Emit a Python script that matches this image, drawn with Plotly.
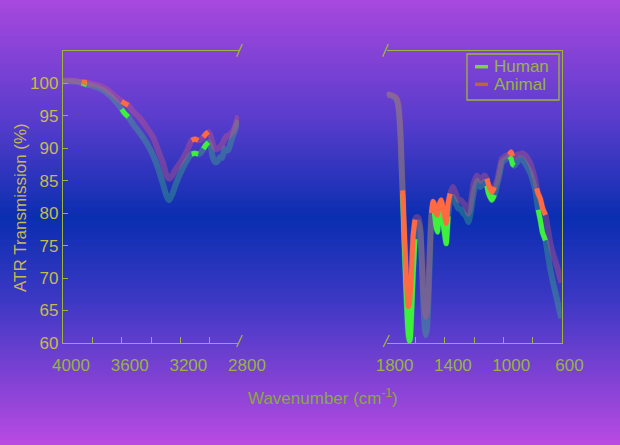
import plotly.graph_objects as go

# ---------------- data ----------------
left_wn = [4000, 3950, 3900, 3873, 3838, 3800, 3750, 3700, 3650, 3600, 3578, 3555, 3520, 3475, 3430,
           3386, 3350, 3320, 3290, 3275, 3255, 3230, 3190, 3150, 3123, 3100, 3078, 3060, 3043, 3025,
           3009, 2995, 2976, 2960, 2945, 2930, 2915, 2898, 2884, 2870, 2855, 2839, 2820, 2805]
left_human = [100.3, 100.3, 100.2, 100.0, 99.8, 99.6, 99.2, 98.5, 97.4, 96.0, 95.3, 94.8, 93.6, 92.3, 90.8,
              88.9, 86.8, 84.6, 82.4, 82.0, 82.9, 84.5, 86.6, 88.3, 89.1, 89.2, 89.1, 89.3, 89.9, 90.5,
              90.9, 90.3, 88.4, 87.8, 88.0, 88.6, 88.5, 89.9, 89.6, 89.8, 91.0, 92.0, 93.3, 94.3]
left_animal = [100.4, 100.4, 100.3, 100.2, 100.1, 99.9, 99.6, 99.0, 98.1, 97.2, 96.9, 96.6, 95.6, 94.6, 93.2,
               91.7, 89.6, 87.8, 85.6, 85.3, 85.8, 86.8, 88.1, 89.8, 91.2, 91.4, 91.2, 91.3, 91.7, 92.2,
               92.5, 92.0, 90.5, 89.9, 89.9, 90.2, 90.6, 91.4, 91.9, 91.9, 92.3, 92.7, 93.8, 95.0]

right_wn = [1800, 1785, 1760, 1735, 1720, 1710, 1703, 1697, 1690, 1680, 1670, 1660, 1652, 1645, 1638,
            1628, 1618, 1605, 1592, 1580, 1568, 1558, 1548, 1538, 1530, 1522, 1512, 1502, 1492, 1482,
            1474, 1462, 1451, 1440, 1426, 1410, 1391, 1378, 1364, 1345, 1325, 1307, 1290, 1272, 1255,
            1238, 1220, 1203, 1180, 1157, 1130, 1112, 1100, 1077, 1060, 1042, 1025, 1008, 990, 974,
            960, 946, 935, 923, 905, 882, 865, 848, 830, 813, 795, 779, 770, 760, 745,
            730, 710, 693, 676, 655, 630, 612, 600]
right_human = [98.0, 98.2, 98.0, 97.6, 96.5, 94.0, 91.0, 87.0, 83.0, 76.0, 70.0, 64.5, 61.5, 60.3, 60.6,
               65.0, 70.5, 76.0, 78.3, 78.6, 77.0, 72.0, 66.0, 62.3, 61.2, 62.5, 67.0, 74.0, 79.5, 80.6,
               80.4, 78.0, 77.1, 79.5, 80.2, 78.0, 75.3, 79.5, 82.0, 82.5, 81.5, 80.7, 80.6, 79.9, 79.5,
               78.6, 80.5, 83.0, 85.0, 84.0, 84.8, 84.2, 83.0, 82.0, 82.8, 84.3, 86.0, 87.8, 88.2, 88.4,
               88.7, 88.4, 87.5, 87.3, 87.8, 88.4, 88.2, 87.6, 86.9, 86.1, 84.8, 83.5, 82.0, 80.5, 78.9,
               77.0, 75.8, 73.5, 71.2, 69.0, 66.6, 64.8, 63.8]
right_animal = [98.1, 98.3, 98.1, 97.8, 96.8, 94.3, 91.5, 87.5, 83.5, 78.0, 72.5, 68.0, 65.6, 65.8, 67.5,
                71.5, 76.5, 79.0, 79.4, 79.2, 77.5, 73.0, 68.0, 65.0, 64.0, 65.0, 69.5, 75.5, 80.0, 81.8,
                81.5, 80.0, 79.7, 81.2, 82.0, 80.5, 78.4, 81.5, 83.0, 84.0, 83.0, 82.0, 82.0, 81.5, 81.0,
                79.9, 82.0, 84.5, 85.8, 85.0, 85.8, 85.3, 84.3, 83.2, 84.0, 85.0, 86.8, 88.4, 88.7, 88.9,
                89.0, 89.4, 88.8, 88.6, 89.0, 89.1, 89.2, 88.9, 88.3, 87.6, 86.3, 85.0, 83.8, 83.0, 82.2,
                80.8, 79.7, 77.5, 75.3, 73.5, 71.7, 70.2, 69.3]

# highlighted wavenumber bands (lo, hi)
human_bands_left = [(3838, 3873), (3555, 3600), (3078, 3123), (3009, 3043)]
animal_bands_left = [(3838, 3873), (3555, 3600), (3078, 3123), (3009, 3043)]
human_bands_right = [(1605, 1690), (1378, 1474), (1060, 1112), (923, 960), (710, 760)]
animal_bands_right = [(1605, 1690), (1364, 1492), (1060, 1112), (935, 960), (710, 770)]

left_ticks = [4000, 3600, 3200, 2800]
left_ticktext = ["4000", "3600", "3200", "2800"]
right_ticks = [1800, 1400, 1000, 600]
right_ticktext = ["1800", "1400", "1000", "600"]
y_ticks = [60, 65, 70, 75, 80, 85, 90, 95, 100]

series_names = ["Human", "Animal"]

# ---------------- styling ----------------
W, H = 620, 445
AX = "#9fb43c"
YTXT = "#c4bc4c"
XTXT = "#98b443"
HUMAN_BASE = "rgba(60,190,120,0.36)"
ANIMAL_BASE = "rgba(220,90,120,0.36)"
HUMAN_HL = "#3cf03c"
ANIMAL_HL = "#ff6a42"
HUMAN_LEG = "#7ed43c"
ANIMAL_LEG = "#b86a30"
FONT = "Liberation Sans, Arial, sans-serif"

def masked(wn, vals, bands):
    out = []
    for w, v in zip(wn, vals):
        out.append(v if any(lo <= w <= hi for lo, hi in bands) else None)
    return out

fig = go.Figure()
panels = [
    ("x", "y", left_wn, left_human, left_animal, human_bands_left, animal_bands_left),
    ("x2", "y2", right_wn, right_human, right_animal, human_bands_right, animal_bands_right),
]
for xa, ya, wn, hum, ani, hb, ab in panels:
    fig.add_trace(go.Scatter(x=wn, y=hum, xaxis=xa, yaxis=ya, mode="lines", showlegend=False,
                             name=series_names[0],
                             line=dict(color=HUMAN_BASE, width=6, shape="spline", smoothing=0.5)))
    fig.add_trace(go.Scatter(x=wn, y=ani, xaxis=xa, yaxis=ya, mode="lines", showlegend=False,
                             name=series_names[1],
                             line=dict(color=ANIMAL_BASE, width=6, shape="spline", smoothing=0.5)))
for xa, ya, wn, hum, ani, hb, ab in panels:
    fig.add_trace(go.Scatter(x=wn, y=masked(wn, hum, hb), xaxis=xa, yaxis=ya, mode="lines",
                             name=series_names[0], showlegend=False,
                             line=dict(color=HUMAN_HL, width=5, shape="spline", smoothing=0.5),
                             connectgaps=False))
for xa, ya, wn, hum, ani, hb, ab in panels:
    fig.add_trace(go.Scatter(x=wn, y=masked(wn, ani, ab), xaxis=xa, yaxis=ya, mode="lines",
                             name=series_names[1], showlegend=False,
                             line=dict(color=ANIMAL_HL, width=5, shape="spline", smoothing=0.5),
                             connectgaps=False))

# background gradient stripes
def lerp(c1, c2, t):
    return tuple(round(a + (b - a) * t) for a, b in zip(c1, c2))

stops = [(0, (168, 72, 222)), (120, (88, 60, 204)), (218, (10, 46, 176)), (300, (60, 56, 196)), (445, (186, 74, 226))]
shapes = []
step = 3
for y0 in range(0, H, step):
    yc = y0 + step / 2
    for (ya_, ca), (yb_, cb) in zip(stops[:-1], stops[1:]):
        if ya_ <= yc <= yb_:
            c = lerp(ca, cb, (yc - ya_) / (yb_ - ya_))
            break
    shapes.append(dict(type="rect", xref="paper", yref="paper", x0=-0.01, x1=1.01,
                       y0=1 - (y0 + step + 0.6) / H, y1=1 - y0 / H, layer="below",
                       line=dict(width=0), fillcolor="rgb(%d,%d,%d)" % c))

def px(x, y):
    return x / W, 1 - y / H

# axis break marks
for (xa, ya_), (xb, yb_) in [((236.7, 56.7), (242.3, 44)), ((236.7, 347), (242.3, 335)),
                              ((382.7, 56.7), (388.3, 44)), ((383.3, 347), (389.3, 335))]:
    x0, y0 = px(xa, ya_)
    x1, y1 = px(xb, yb_)
    shapes.append(dict(type="line", xref="paper", yref="paper", x0=x0, y0=y0, x1=x1, y1=y1,
                       line=dict(color=AX, width=1.3)))

# legend box and samples
bx0, by0 = px(467, 100)
bx1, by1 = px(559, 54)
shapes.append(dict(type="rect", xref="paper", yref="paper", x0=bx0, y0=by0, x1=bx1, y1=by1,
                   line=dict(color=AX, width=1.3), fillcolor="rgba(0,0,0,0)"))
for yy, col in [(66.7, HUMAN_LEG), (84.3, ANIMAL_LEG)]:
    x0, y0 = px(475, yy)
    x1, _ = px(488, yy)
    shapes.append(dict(type="line", xref="paper", yref="paper", x0=x0, y0=y0, x1=x1, y1=y0,
                       line=dict(color=col, width=3.5)))

xd_left = [63 / W, 239 / W]
xd_right = [386.6 / W, 561.5 / W]
yd = [1 - 343 / H, 1 - 50.7 / H]

tickfont_x = dict(family=FONT, size=17, color=XTXT)
tickfont_y = dict(family=FONT, size=17, color=YTXT)
minor = dict(dtick=200, ticks="inside", ticklen=6, tickcolor=AX, showgrid=False)

annotations = [
    dict(text="ATR Transmission (%)", textangle=-90, xref="paper", yref="paper",
         x=20.5 / W, y=1 - 207.5 / H, xanchor="center", yanchor="middle", showarrow=False,
         font=dict(family=FONT, size=17, color="#c8b855")),
    dict(text="Wavenumber (cm<sup>-1</sup>)", xref="paper", yref="paper",
         x=323 / W, y=1 - 397 / H, xanchor="center", yanchor="middle", showarrow=False,
         font=dict(family=FONT, size=17, color="#88aa40")),
]
for yy, name in [(66.7, series_names[0]), (84.3, series_names[1])]:
    ax_, ay_ = px(492, yy)
    annotations.append(dict(text=name, xref="paper", yref="paper", x=ax_, y=ay_,
                            xanchor="left", yanchor="middle", showarrow=False,
                            font=dict(family=FONT, size=17, color=XTXT)))

fig.update_layout(
    template="none",
    width=W, height=H, margin=dict(l=0, r=0, t=0, b=0, autoexpand=False),
    paper_bgcolor="rgb(10,46,176)", plot_bgcolor="rgba(0,0,0,0)",
    shapes=shapes, showlegend=False,
    xaxis=dict(domain=xd_left, range=[4000, 2800], anchor="y", showline=True, linecolor=AX, linewidth=1.3,
               mirror=True, ticks="inside", ticklen=6, tickcolor=AX, tickvals=left_ticks,
               ticktext=left_ticktext, tickfont=tickfont_x, showgrid=False, zeroline=False,
               ticklabelshift=-8, ticklabelstandoff=6, minor=minor, automargin=False),
    xaxis2=dict(domain=xd_right, range=[1800, 600], anchor="y2", showline=True, linecolor=AX, linewidth=1.3,
                mirror=True, ticks="inside", ticklen=6, tickcolor=AX, tickvals=right_ticks,
                ticktext=right_ticktext, tickfont=tickfont_x, showgrid=False, zeroline=False,
                ticklabelshift=-8, ticklabelstandoff=6, minor=minor, automargin=False),
    yaxis=dict(domain=yd, range=[60, 105], anchor="x", showline=True, linecolor=AX, linewidth=1.3,
               ticks="inside", ticklen=5, tickcolor=AX, tickvals=y_ticks, tickfont=tickfont_y,
               showgrid=False, zeroline=False, automargin=False),
    yaxis2=dict(domain=yd, range=[60, 105], anchor="x2", side="right", showline=True, linecolor=AX,
                linewidth=1.3, ticks="", showticklabels=False, showgrid=False, zeroline=False,
                automargin=False),
    annotations=annotations,
)

fig.write_html("out.html", config={"displayModeBar": False},
               post_script="document.body.style.margin='0px';document.body.style.overflow='hidden';")
